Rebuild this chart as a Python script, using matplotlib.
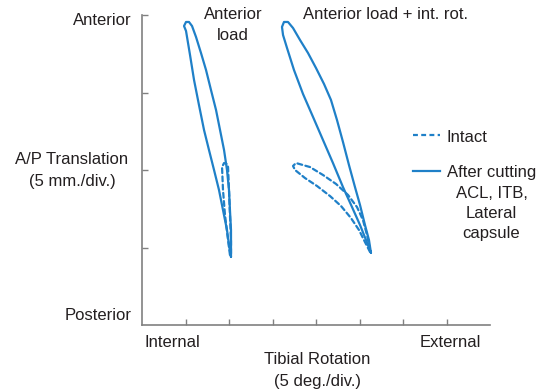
import matplotlib
matplotlib.use("Agg")
import matplotlib.pyplot as plt
from matplotlib.lines import Line2D

plt.rcParams['font.family'] = ['Liberation Sans', 'DejaVu Sans']

W, H = 546, 392
BLUE = '#1f80c8'
AXIS = '#808080'
TEXT = '#231f20'

# Tibial rotation (deg) and A/P translation (mm) for each hysteresis loop
# "Anterior load" - after cutting, closed loop from tip around the top and back
al_cut_x = [10.23, 10.00, 9.77, 9.31, 8.85, 8.28, 7.70, 7.13, 6.55, 5.98, 5.52, 5.06,
            4.83, 5.06, 5.40, 5.75, 6.21, 6.78, 7.36, 7.93, 8.51, 8.97, 9.43, 9.77,
            10.00, 10.11, 10.23, 10.23, 10.23]
al_cut_y = [4.39, 5.16, 6.13, 7.42, 8.71, 10.00, 11.29, 12.58, 14.19, 15.81, 17.42, 18.97,
            19.29, 19.55, 19.55, 19.29, 18.58, 17.55, 16.45, 15.16, 13.87, 12.58, 11.29, 10.00,
            8.71, 7.42, 6.13, 5.16, 4.39]

# "Anterior load" - intact
al_int_x = [10.11, 9.89, 9.54, 9.31, 9.20, 9.43, 9.77, 9.89, 10.00, 10.11, 10.23, 10.23]
al_int_y = [4.52, 5.48, 7.10, 8.71, 10.19, 10.45, 10.39, 10.19, 8.71, 7.10, 5.48, 4.52]

# "Anterior load + int. rot." - after cutting
ar_cut_x = [26.32, 25.75, 25.06, 24.14, 23.10, 21.95, 20.80, 19.66, 18.51, 17.47, 16.67, 16.21,
            16.09, 16.32, 16.78, 17.36, 18.16, 19.08, 20.00, 20.92, 21.72, 22.41, 23.10, 23.79,
            24.48, 25.06, 25.63, 26.09, 26.32]
ar_cut_y = [4.65, 5.48, 6.45, 7.61, 8.90, 10.45, 11.94, 13.42, 14.90, 16.45, 17.87, 18.71,
            19.23, 19.55, 19.55, 19.16, 18.39, 17.55, 16.58, 15.55, 14.52, 13.23, 11.81, 10.32,
            8.90, 7.74, 6.45, 5.48, 4.65]

# "Anterior load + int. rot." - intact
ar_int_x = [26.21, 25.63, 24.94, 24.02, 22.87, 21.61, 20.11, 18.74, 17.59, 17.36,
            17.70, 19.31, 20.80, 22.30, 23.68, 24.71, 25.40, 25.86, 26.21]
ar_int_y = [4.71, 5.35, 6.13, 6.90, 7.68, 8.32, 8.97, 9.48, 10.00, 10.26,
            10.45, 10.19, 9.68, 9.10, 8.39, 7.61, 6.77, 5.81, 4.84]

x_ticks = [5, 10, 15, 20, 25, 30, 35]
y_ticks = [5, 10, 15, 20]

y_title = ['A/P Translation', '(5 mm./div.)']
x_title = ['Tibial Rotation', '(5 deg./div.)']
panel_left = ['Anterior', 'load']
panel_right = 'Anterior load + int. rot.'
legend_intact = 'Intact'
legend_cut = ['After cutting', 'ACL, ITB,', 'Lateral', 'capsule']


def fx(px):
    return px / W


def fy(py):
    return 1 - py / H


fig = plt.figure(figsize=(W / 100, H / 100), dpi=100)
ax = fig.add_axes([fx(142), fy(325), fx(490) - fx(142), fy(15) - fy(325)])
ax.set_xlim(0, 40)
ax.set_ylim(0, 20)
for side in ('top', 'right'):
    ax.spines[side].set_visible(False)
for side in ('left', 'bottom'):
    ax.spines[side].set_color(AXIS)
    ax.spines[side].set_linewidth(1.2)
ax.set_xticks(x_ticks)
ax.set_yticks(y_ticks)
ax.tick_params(direction='in', length=4.5, width=1.0, color=AXIS,
               labelbottom=False, labelleft=False)
ax.patch.set_alpha(0)

solid = dict(color=BLUE, lw=1.6, solid_joinstyle='round', solid_capstyle='round', clip_on=False)
dashed = dict(color=BLUE, lw=1.6, dashes=(2.2, 1.5), dash_capstyle='round', clip_on=False)

ax.plot(al_int_x, al_int_y, **dashed)
ax.plot(ar_int_x, ar_int_y, **dashed)
ax.plot(al_cut_x, al_cut_y, **solid)
ax.plot(ar_cut_x, ar_cut_y, **solid)

tk = dict(color=TEXT, fontsize=12, va='baseline')


def stack(x, baselines, lines, ha='center'):
    for b, s in zip(baselines, lines):
        fig.text(fx(x), fy(b), s, ha=ha, **tk)


fig.text(fx(132), fy(25), 'Anterior', ha='right', **tk)
fig.text(fx(132), fy(320), 'Posterior', ha='right', **tk)
stack(72, [164, 186], y_title)
fig.text(fx(145), fy(347), 'Internal', ha='left', **tk)
fig.text(fx(450), fy(347), 'External', ha='center', **tk)
stack(317, [364, 386], x_title)
stack(233, [19, 40], panel_left)
fig.text(fx(303), fy(19), panel_right, ha='left', **tk)

# legend
fig.add_artist(Line2D([fx(413), fx(440)], [fy(135), fy(135)], color=BLUE, lw=1.6,
                      dashes=(2.2, 1.5)))
fig.add_artist(Line2D([fx(413), fx(440)], [fy(171), fy(171)], color=BLUE, lw=1.6))
fig.text(fx(446), fy(142), legend_intact, ha='left', **tk)
stack(491.5, [177, 198, 218, 238], legend_cut)

fig.savefig('out.png', dpi=100, facecolor='white')
